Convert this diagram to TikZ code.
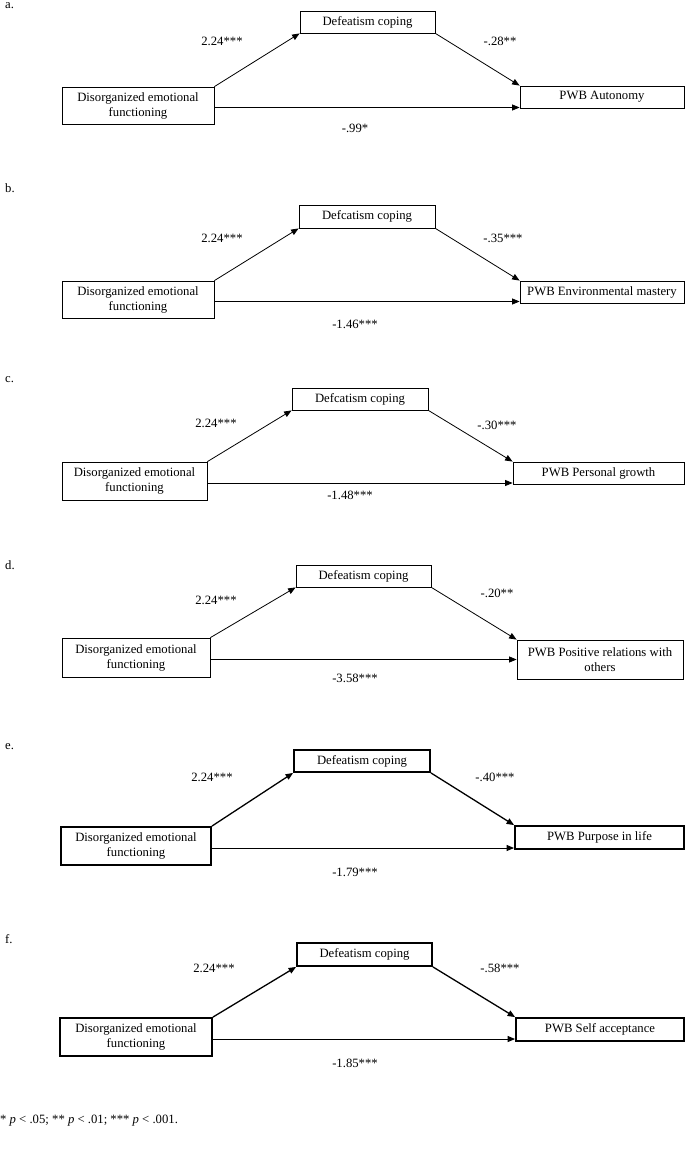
\documentclass[tikz,border=0pt]{standalone}
\usepackage{fontspec}
\setmainfont{Liberation Serif}
\usetikzlibrary{arrows.meta}
\newcommand{\mbx}[7][]{\node[bx,#1,minimum width={#3-#2},minimum height={#5-#4}] (#6) at ({(#2+#3)/2},{(#4+#5)/2}) {#7};}
\begin{document}
\begin{tikzpicture}[x=1pt,y=-1pt,
  bx/.style={draw=black,line width=0.8pt,inner sep=0pt,align=center,font=\fontsize{12.7}{15}\selectfont},
  thk/.style={line width=1.8pt},
  lbl/.style={inner sep=0pt,font=\fontsize{12.7}{15}\selectfont},
  plab/.style={inner sep=0pt,anchor=west,font=\fontsize{12.7}{15}\selectfont},
  arr/.style={line width=0.8pt,-{Triangle[length=7.5pt,width=6pt]}},
  arrk/.style={line width=1.3pt,-{Triangle[length=7.5pt,width=6pt]}},
  arrh/.style={line width=1.0pt,-{Triangle[length=7.5pt,width=6pt]}}]
\fill[white] (0,0) rectangle (685,1156);
\useasboundingbox (0,0) rectangle (685,1156);
% ---------- a ----------
\node[plab] (la) at (5,6) {a.};
\mbx{300}{435}{11}{33}{Da}{Defeatism coping}
\mbx{62}{214}{87}{124}{La}{Disorganized emotional\\functioning}
\mbx{520}{684}{86}{108}{Pa}{PWB Autonomy}
\draw[arr] (La.north east) -- (Da.south west);
\draw[arr] (Da.south east) -- (Pa.north west);
\draw[arr] ([yshift=-2pt]La.east) -- ([yshift=-2pt]La.east -| Pa.west);
\node[lbl] (a1) at (222,41) {2.24***};
\node[lbl] (a2) at (500,41) {-.28**};
\node[lbl] (a3) at (355,128) {-.99*};
% ---------- b ----------
\node[plab] (lb) at (5,188) {b.};
\mbx{299}{435}{205}{228}{Db}{Defcatism coping}
\mbx{62}{214}{281}{318}{Lb}{Disorganized emotional\\functioning}
\mbx{520}{684}{281}{303}{Pb}{PWB Environmental mastery}
\draw[arr] (Lb.north east) -- (Db.south west);
\draw[arr] (Db.south east) -- (Pb.north west);
\draw[arr] ([yshift=-2pt]Lb.east) -- ([yshift=-2pt]Lb.east -| Pb.west);
\node[lbl] (b1) at (222,238) {2.24***};
\node[lbl] (b2) at (503,238) {-.35***};
\node[lbl] (b3) at (355,324) {-1.46***};
% ---------- c ----------
\node[plab] (lc) at (5,380) {c.};
\mbx{292}{428}{388}{410}{Dc}{Defcatism coping}
\mbx{62}{207}{462}{500}{Lc}{Disorganized emotional\\functioning}
\mbx{513}{684}{462}{484}{Pc}{PWB Personal growth}
\draw[arr] (Lc.north east) -- (Dc.south west);
\draw[arr] (Dc.south east) -- (Pc.north west);
\draw[arr] ([yshift=-2pt]Lc.east) -- ([yshift=-2pt]Lc.east -| Pc.west);
\node[lbl] (c1) at (216,423) {2.24***};
\node[lbl] (c2) at (497,425) {-.30***};
\node[lbl] (c3) at (350,495) {-1.48***};
% ---------- d ----------
\node[plab] (ld) at (5,565) {d.};
\mbx{296}{431}{565}{587}{Dd}{Defeatism coping}
\mbx{62}{210}{638}{677}{Ld}{Disorganized emotional\\functioning}
\mbx{517}{683}{640}{679}{Pd}{PWB Positive relations with\\others}
\draw[arr] (Ld.north east) -- (Dd.south west);
\draw[arr] (Dd.south east) -- (Pd.north west);
\draw[arr] ([yshift=-2pt]Ld.east) -- ([yshift=-2pt]Ld.east -| Pd.west);
\node[lbl] (d1) at (216,600) {2.24***};
\node[lbl] (d2) at (497,593) {-.20**};
\node[lbl] (d3) at (355,678) {-3.58***};
% ---------- e ----------
\node[plab] (le) at (5,747) {e.};
\mbx[thk]{294}{430}{750}{772}{De}{Defeatism coping}
\mbx[thk]{61}{211}{827}{865}{Le}{Disorganized emotional\\functioning}
\mbx[thk]{515}{684}{826}{849}{Pe}{PWB Purpose in life}
\draw[arrk] (Le.north east) -- (De.south west);
\draw[arrk] (De.south east) -- (Pe.north west);
\draw[arrh] ([yshift=-2pt]Le.east) -- ([yshift=-2pt]Le.east -| Pe.west);
\node[lbl] (e1) at (212,777) {2.24***};
\node[lbl] (e2) at (495,777) {-.40***};
\node[lbl] (e3) at (355,872) {-1.79***};
% ---------- f ----------
\node[plab] (lf) at (5,939) {f.};
\mbx[thk]{297}{432}{943}{966}{Df}{Defeatism coping}
\mbx[thk]{60}{212}{1018}{1056}{Lf}{Disorganized emotional\\functioning}
\mbx[thk]{516}{684}{1018}{1041}{Pf}{PWB Self acceptance}
\draw[arrk] (Lf.north east) -- (Df.south west);
\draw[arrk] (Df.south east) -- (Pf.north west);
\draw[arrh] ([yshift=-2pt]Lf.east) -- ([yshift=-2pt]Lf.east -| Pf.west);
\node[lbl] (f1) at (214,968) {2.24***};
\node[lbl] (f2) at (500,968) {-.58***};
\node[lbl] (f3) at (355,1063) {-1.85***};
% ---------- footnote ----------
\node[plab] (fn) at (0,1121) {* \textit{p} < .05; ** \textit{p} < .01; *** \textit{p} < .001.};
\end{tikzpicture}
\end{document}
